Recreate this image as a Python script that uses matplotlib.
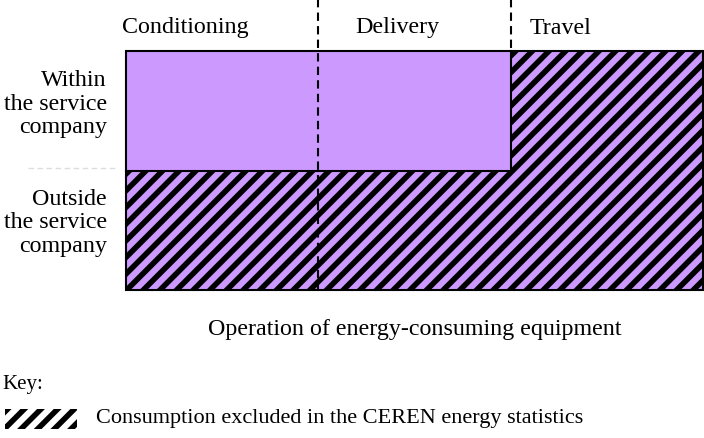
import matplotlib
matplotlib.use("Agg")
import matplotlib.pyplot as plt
from matplotlib.patches import Rectangle
from matplotlib.lines import Line2D

# ---- data ----
columns = ["Conditioning", "Delivery", "Travel"]
rows = ["Within\nthe service\ncompany", "Outside\nthe service\ncompany"]
# excluded[row][col]: True = consumption excluded in CEREN statistics (hatched)
excluded = [[False, False, True],
            [True, True, True]]
xlabel = "Operation of energy-consuming equipment"
key_title = "Key:"
key_text = "Consumption excluded in the CEREN energy statistics"

purple = "#CC99FF"
FAM = ["Liberation Serif", "DejaVu Serif"]
plt.rcParams["hatch.linewidth"] = 4.0
fs = 17.3

W, H = 704, 439
fig = plt.figure(figsize=(W / 100, H / 100), dpi=100)

L, R, T, B = 126, 703, 52, 291
ax = fig.add_axes([L / W, 1 - B / H, (R - L) / W, (B - T) / H])
ncol, nrow = len(columns), len(rows)
ax.set_xlim(0, ncol)
ax.set_ylim(nrow, 0)
ax.axis("off")

# cells
for r in range(nrow):
    for c in range(ncol):
        ax.bar(c, 1, bottom=r, width=1, align="edge", color=purple,
               hatch="//" if excluded[r][c] else None,
               edgecolor="black", linewidth=0, zorder=1)

# outer box
ax.add_patch(Rectangle((0, 0), ncol, nrow, fill=False, edgecolor="black",
                       linewidth=1.5, zorder=3, clip_on=False))
# boundaries between cells of different type
for r in range(nrow):
    for c in range(ncol):
        if c + 1 < ncol and excluded[r][c] != excluded[r][c + 1]:
            ax.plot([c + 1, c + 1], [r, r + 1], color="black", lw=1.5,
                    zorder=3, clip_on=False)
        if r + 1 < nrow and excluded[r][c] != excluded[r + 1][c]:
            ax.plot([c, c + 1], [r + 1, r + 1], color="black", lw=1.5,
                    zorder=3, clip_on=False)

# dashed column separators (extend above the box)
top_ext = -T / (B - T) * nrow
for c in range(1, ncol):
    ax.add_line(Line2D([c, c], [top_ext, nrow if c == 1 else 0], color="black",
                       lw=1.5, dashes=(4, 2.5), zorder=4, clip_on=False))

# faint dashed row separator at left
ax.add_line(Line2D([-0.51, -0.05], [0.98, 0.98], color="#dddddd",
                   lw=1.0, dashes=(4, 2.5), zorder=0, clip_on=False))

# column headers
col_x = [122, 355, 530]
for name, x in zip(columns, col_x):
    fig.text(x / W, 1 - 28 / H, name, ha="left", va="center", fontsize=fs, family=FAM)

# row labels
row_y = [104, 223]
for name, y in zip(rows, row_y):
    fig.text(107 / W, 1 - y / H, name, ha="right", va="center", fontsize=fs,
             linespacing=1.15, multialignment="right", family=FAM)

fig.text((L + R) / 2 / W, 1 - 329 / H, xlabel, ha="center", va="center",
         fontsize=fs, family=FAM)
fig.text(2 / W, 1 - 385 / H, key_title, ha="left", va="center", fontsize=15, family=FAM)

# legend swatch
fig.patches.append(Rectangle((5 / W, 1 - 430 / H), 72 / W, 20 / H, transform=fig.transFigure,
                             facecolor="white", hatch="//", edgecolor="black",
                             linewidth=0, figure=fig))
fig.text(96 / W, 1 - 419 / H, key_text, ha="left", va="center", fontsize=16, family=FAM)

fig.savefig("out.png", dpi=100, facecolor="white")
